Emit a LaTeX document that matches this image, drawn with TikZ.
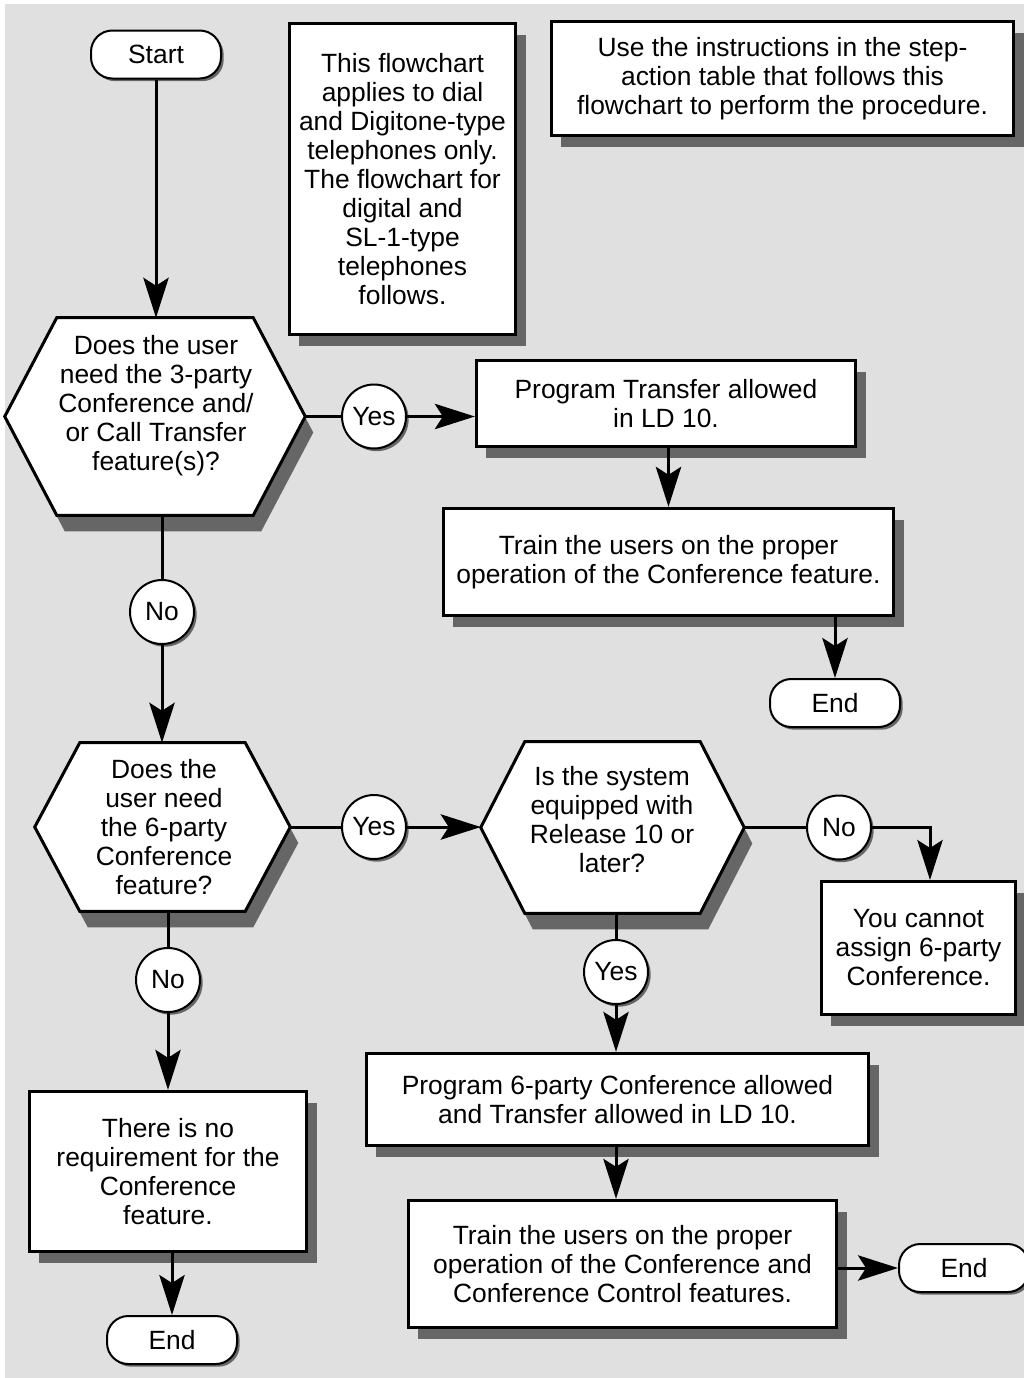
\documentclass[tikz,border=0pt]{standalone}
\usepackage{fontspec}
\setmainfont{Liberation Sans}
\usetikzlibrary{arrows.meta,calc,shadows}
\definecolor{bgc}{HTML}{E0E0E0}
\definecolor{shc}{HTML}{666666}
\begin{document}
\begin{tikzpicture}[x=0.75pt,y=-0.75pt,
  font=\fontsize{19.8pt}{21.75pt}\selectfont,
  box/.style={draw, line width=2.25pt, fill=white, align=center, inner sep=0pt,
    drop shadow={shadow xshift=7.5pt, shadow yshift=-8.5pt, fill=shc, opacity=1}},
  term/.style={draw, line width=1.5pt, fill=white, rounded corners=16pt, inner sep=0pt,
    minimum width=97.5pt, minimum height=36pt,
    drop shadow={shadow xshift=2pt, shadow yshift=-2pt, fill=shc, opacity=1}},
  lab/.style={draw, circle, line width=1.5pt, fill=white, inner sep=0pt, minimum size=48pt,
    drop shadow={shadow xshift=2pt, shadow yshift=-2pt, fill=shc, opacity=1}},
  hexn/.style={draw=none, inner sep=0pt},
  hexline/.style={line width=2.25pt, fill=white,
    drop shadow={shadow xshift=6pt, shadow yshift=-12pt, fill=shc, opacity=1}},
  txt/.style={align=center, inner sep=0pt},
  ln/.style={line width=2.25pt},
  arr/.style={line width=2.25pt, -{Stealth[length=30pt, width=19pt, inset=6pt]}}
]
\useasboundingbox (0,0) rectangle (1024,1378);
\fill[bgc] (5,4) rectangle (1024,1378);

% top notes
\node[term] (start) at (156,54.5) {Start};
\node[box, minimum width=170pt, minimum height=233.5pt] (note1) at (402.5,179)
  {This flowchart\\applies to dial\\and Digitone-type\\telephones only.\\The flowchart for\\digital and\\SL-1-type\\telephones\\follows.};
\node[box, minimum width=347pt, minimum height=86pt] (note2) at (782.5,78.5)
  {Use the instructions in the step-\\action table that follows this\\flowchart to perform the procedure.};

% hexagon 1
\node[hexn, minimum width=225pt, minimum height=147.75pt] (q1) at (155,416.5) {};
\draw[hexline] (q1.west) -- ($(q1.north west)+(52,0)$) -- ($(q1.north east)+(-52,0)$) -- (q1.east)
  -- ($(q1.south east)+(-52,0)$) -- ($(q1.south west)+(52,0)$) -- cycle;
\node[txt] (q1t) at (156,406) {Does the user\\need the 3-party\\Conference and/\\or Call Transfer\\feature(s)?};

\node[lab] (y1) at (374,416.5) {Yes};
\node[box, minimum width=284.5pt, minimum height=64.75pt] (b7) at (666,403.5)
  {Program Transfer allowed\\in LD 10.};
\node[box, minimum width=337.75pt, minimum height=80.5pt] (b9) at (668.5,562)
  {Train the users on the proper\\operation of the Conference feature.};
\node[term] (e1) at (835,703) {End};

\node[lab] (n1) at (162,612) {No};

% hexagon 2
\node[hexn, minimum width=191.25pt, minimum height=126pt] (q2) at (162.5,827) {};
\draw[hexline] (q2.west) -- ($(q2.north west)+(45,0)$) -- ($(q2.north east)+(-45,0)$) -- (q2.east)
  -- ($(q2.south east)+(-45,0)$) -- ($(q2.south west)+(45,0)$) -- cycle;
\node[txt] (q2t) at (164,827.5) {Does the\\user need\\the 6-party\\Conference\\feature?};

\node[lab] (y2) at (374,827) {Yes};

% hexagon 3
\node[hexn, minimum width=197.25pt, minimum height=128.25pt] (q3) at (612.5,827.5) {};
\draw[hexline] (q3.west) -- ($(q3.north west)+(44,0)$) -- ($(q3.north east)+(-44,0)$) -- (q3.east)
  -- ($(q3.south east)+(-44,0)$) -- ($(q3.south west)+(44,0)$) -- cycle;
\node[txt] (q3t) at (612,819.5) {Is the system\\equipped with\\Release 10 or\\later?};

\node[lab] (n3) at (839,827.5) {No};
\node[box, minimum width=145.75pt, minimum height=100pt] (b16) at (918.5,948)
  {You cannot\\assign 6-party\\Conference.};
\coordinate (b16in) at (930,880);

\node[lab] (y3) at (616,972) {Yes};
\node[box, minimum width=376.75pt, minimum height=69.25pt] (b19) at (617.5,1099.5)
  {Program 6-party Conference allowed\\and Transfer allowed in LD 10.};
\node[box, minimum width=321.25pt, minimum height=95.5pt] (b20) at (622.5,1264)
  {Train the users on the proper\\operation of the Conference and\\Conference Control features.};
\node[term] (e3) at (964,1268) {End};

\node[lab] (n2) at (168,980) {No};
\node[box, minimum width=208pt, minimum height=120.25pt] (b18) at (168,1171.5)
  {There is no\\requirement for the\\Conference\\feature.};
\node[term] (e2) at (172,1340) {End};

% connectors
\draw[arr] (start.south) -- (start.south |- q1.north);
\draw[ln] (q1.east) -- (y1.west);
\draw[arr] (y1.east) -- (y1.east -| b7.west);
\draw[arr] (b9.north |- b7.south) -- (b9.north);
\draw[arr] (e1.north |- b9.south) -- (e1.north);
\draw[ln] (n1.north |- q1.south) -- (n1.north);
\draw[arr] (n1.south) -- (n1.south |- q2.north);
\draw[ln] (q2.east) -- (y2.west);
\draw[arr] (y2.east) -- (y2.east -| q3.west);
\draw[ln] (q3.east) -- (n3.west);
\draw[arr] (n3.east) -| (b16in);
\draw[ln] (y3.north |- q3.south) -- (y3.north);
\draw[arr] (y3.south) -- (y3.south |- b19.north);
\draw[arr] (y3.south |- b19.south) -- (y3.south |- b20.north);
\draw[arr] (e3.west -| b20.east) -- (e3.west);
\draw[ln] (n2.north |- q2.south) -- (n2.north);
\draw[arr] (n2.south) -- (n2.south |- b18.north);
\draw[arr] (e2.north |- b18.south) -- (e2.north);
\end{tikzpicture}
\end{document}
